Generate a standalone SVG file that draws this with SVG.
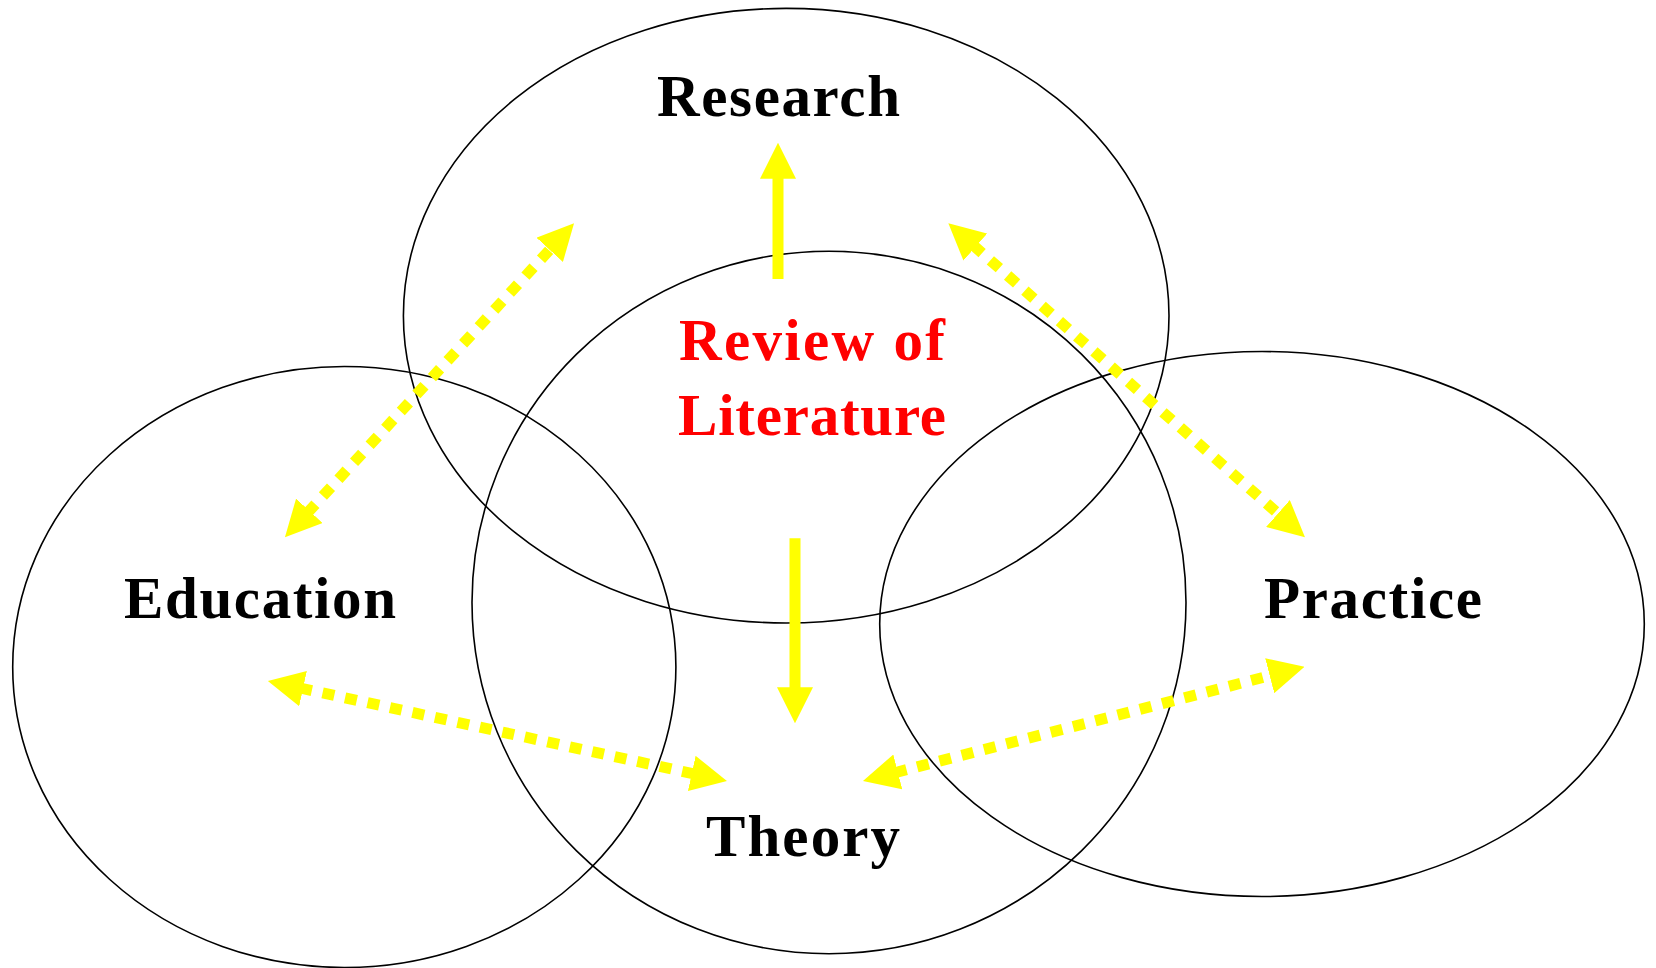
<svg xmlns="http://www.w3.org/2000/svg" width="1656" height="968" viewBox="0 0 1656 968">
<style>
.ell{fill:none;stroke:#000;stroke-width:1.6}
.lbl{font-family:"Liberation Serif","Times New Roman",serif;font-weight:bold;font-size:59px;fill:#000}
.red{fill:#FF0000}
.dash{stroke:#FFFF00;stroke-width:11;stroke-dasharray:12 11;fill:none;marker-start:url(#ah);marker-end:url(#ah)}
.solid{stroke:#FFFF00;stroke-width:11;fill:none;marker-end:url(#ah)}
</style>
<defs>
<marker id="ah" markerUnits="userSpaceOnUse" viewBox="0 0 36 36" markerWidth="36" markerHeight="36" refX="3" refY="18" orient="auto-start-reverse">
<path d="M0,0 L36,18 L0,36 z" fill="#FFFF00"/>
</marker>
</defs>
<rect width="1656" height="968" fill="#fff"/>
<g id="research"><ellipse class="ell" cx="786.2" cy="315.7" rx="382.8" ry="307.3"/><text class="lbl" x="657" y="116" textLength="243">Research</text></g>
<g id="theory"><ellipse class="ell" cx="829" cy="602.5" rx="357" ry="351.2"/><text class="lbl" x="706" y="856" textLength="194">Theory</text></g>
<g id="review"><text class="lbl red" x="679" y="360" textLength="266">Review of</text><text class="lbl red" x="678" y="435" textLength="268">Literature</text></g>
<g id="education"><ellipse class="ell" cx="344.3" cy="667" rx="331.6" ry="300.5"/><text class="lbl" x="124" y="618" textLength="272">Education</text></g>
<g id="practice"><ellipse class="ell" cx="1262" cy="624" rx="382.3" ry="272.5"/><text class="lbl" x="1264" y="618" textLength="218">Practice</text></g>
<g id="connectors">
<line class="solid" x1="778" y1="279" x2="778" y2="175.7"/>
<line class="solid" x1="795" y1="538.3" x2="795" y2="690.3"/>
<line class="dash" x1="307.3" y1="513" x2="551.7" y2="247.6"/>
<line class="dash" x1="973.1" y1="245.1" x2="1280.2" y2="515.5"/>
<line class="dash" x1="300.1" y1="688" x2="694.7" y2="774"/>
<line class="dash" x1="894.9" y1="772.7" x2="1272.6" y2="675"/>
</g>
</svg>
